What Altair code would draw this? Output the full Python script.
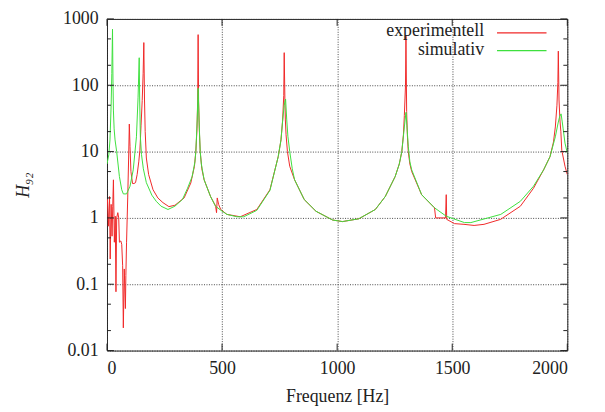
import altair as alt
import pandas as pd

# ---- data ----
freq_exp = [0, 2, 6, 11, 14, 18, 22, 25, 28, 32, 36, 39, 42, 47, 51, 54, 60, 64, 68,
            71, 75, 80, 82, 85, 90, 94, 97, 100, 104, 111, 117, 124, 131, 138, 143,
            148, 153, 157, 160, 163, 166, 171, 181, 200, 221, 243, 269, 295, 335,
            364, 380, 386, 391, 394, 396, 398, 401, 405, 412, 422, 450, 472, 476, 479,
            485, 494, 521, 579, 651, 708, 744, 756, 763, 768, 770, 773, 775, 778, 784,
            794, 815, 857, 908, 980, 1023, 1094, 1166, 1209, 1252, 1270, 1281, 1288,
            1292, 1297, 1299, 1302, 1305, 1309, 1316, 1324, 1367, 1423, 1428, 1471,
            1474, 1476, 1510, 1551, 1595, 1638, 1710, 1796, 1853, 1897, 1925, 1940,
            1948, 1955, 1959, 1961, 1964, 1968, 1972, 1976, 1990, 2000]
h_exp = [1.9, 1.9, 0.75, 2.1, 0.24, 1.6, 0.53, 1.5, 3.75, 0.43, 1.06, 0.077, 1.0, 1.2,
         1.0, 0.43, 0.45, 0.4, 0.19, 0.022, 0.17, 0.043, 0.135, 0.43, 2.0, 8, 26, 12,
         5, 3.3, 3.3, 3.4, 4.5, 7, 10.5, 25, 59, 150, 440, 60, 20, 8, 4.5, 2.66, 2.0,
         1.7, 1.48, 1.55, 2.0, 3.35, 6, 10, 22, 60, 580, 60, 22, 10, 5.5, 3.76, 2.1,
         1.5, 1.2, 2.0, 1.6, 1.34, 1.13, 1.04, 1.34, 2.66, 8.4, 15, 29, 70, 310, 60,
         30, 18, 10, 6, 3.76, 1.89, 1.26, 0.93, 0.88, 0.97, 1.34, 2.1, 4.2, 6.5, 10,
         18, 35, 100, 550, 40, 18, 10, 6.5, 5.0, 2.24, 1.42, 1.0, 1.0, 2.24, 0.95,
         0.82, 0.8, 0.77, 0.8, 0.95, 1.5, 2.8, 5.3, 8.4, 14, 23.5, 50, 110, 327, 60,
         30, 20, 10.5, 6, 4.5]

freq_sim = [0, 8, 13, 18, 21, 24, 26, 28, 31, 35, 42, 54, 64, 71, 85, 100, 114, 128,
            135, 140, 142, 145, 150, 158, 171, 195, 214, 235, 265, 295, 328, 350, 370,
            382, 386, 392, 396, 400, 405, 410, 422, 450, 472, 495, 521, 564, 594, 651,
            708, 744, 756, 763, 770, 776, 781, 786, 794, 805, 815, 857, 908, 980, 1023,
            1094, 1166, 1209, 1252, 1270, 1281, 1292, 1299, 1303, 1309, 1316, 1324,
            1367, 1423, 1474, 1553, 1581, 1711, 1796, 1853, 1897, 1925, 1948, 1960,
            1967, 1973, 1978, 1982, 1990, 2000]
h_sim = [6.5, 9, 15, 50, 150, 700, 120, 41, 22, 15, 10, 4.2, 2.66, 2.3, 2.3, 3.0,
         5.3, 16.7, 66, 260, 60, 16.7, 9, 5.5, 3.4, 2.2, 1.78, 1.5, 1.34, 1.5, 1.9,
         2.8, 4.2, 7, 10, 30, 90, 30, 10, 6.5, 3.76, 2.1, 1.5, 1.3, 1.13, 1.04, 1.04,
         1.3, 2.6, 8.4, 15, 29, 50, 62, 30, 17, 10, 5.5, 3.76, 1.89, 1.26, 0.93, 0.88,
         0.97, 1.34, 2.1, 4.2, 6.5, 10, 23.5, 39, 25, 12, 7, 5.3, 2.24, 1.42, 1.06,
         0.85, 0.85, 1.13, 1.78, 3.0, 5.3, 8.4, 16.7, 27, 34, 37, 28, 22, 13.4, 9.5]

series_names = ["experimentell", "simulativ"]
series_colors = ["#f02828", "#3ee03e"]

y_major = [0.01, 0.1, 1, 10, 100, 1000]
y_minor = [0.02, 0.05, 0.2, 0.5, 2, 5, 20, 50, 200, 500]
x_major = [0, 500, 1000, 1500, 2000]

W, H = 465, 335
FONT = "Liberation Serif"

df = pd.concat([
    pd.DataFrame({"f": freq_exp, "h": h_exp, "s": series_names[0]}),
    pd.DataFrame({"f": freq_sim, "h": h_sim, "s": series_names[1]}),
])

xscale = alt.Scale(domain=[0, 2000], nice=False, zero=False)
yscale = alt.Scale(type="log", domain=[0.01, 1000], nice=False)

xaxis = alt.Axis(values=x_major, format="d", title="Frequenz [Hz]", grid=True,
                 ticks=False, domain=False, labelPadding=9, titlePadding=10)
yaxis = alt.Axis(values=y_major, format="~g", title="H₉₂", grid=True,
                 ticks=False, domain=False, labelPadding=9,
                 titleFontStyle="italic", titleX=-84, titleY=H / 2,
                 titleAngle=270, titleAlign="center", titleBaseline="middle")

lines = alt.Chart(df).mark_line(strokeWidth=1, clip=True).encode(
    x=alt.X("f:Q", scale=xscale, axis=xaxis),
    y=alt.Y("h:Q", scale=yscale, axis=yaxis),
    color=alt.Color("s:N", scale=alt.Scale(domain=series_names, range=series_colors),
                    legend=None),
    order=alt.Order("f:Q"),
)

ymaj_df = pd.DataFrame({"h": y_major})
ymin_df = pd.DataFrame({"h": y_minor})
xmaj_df = pd.DataFrame({"f": x_major})

def ytick(d, x0, x1):
    return alt.Chart(d).mark_rule(color="#222", strokeWidth=1).encode(
        y=alt.Y("h:Q", scale=yscale, axis=yaxis),
        x=alt.value(x0), x2=alt.value(x1))

def xtick(d, y0, y1):
    return alt.Chart(d).mark_rule(color="#222", strokeWidth=1).encode(
        x=alt.X("f:Q", scale=xscale, axis=xaxis),
        y=alt.value(y0), y2=alt.value(y1))

ticks = [
    ytick(ymaj_df, 0, 7), ytick(ymin_df, 0, 4),
    ytick(ymaj_df, W - 7, W), ytick(ymin_df, W - 4, W),
    xtick(xmaj_df, H, H - 7), xtick(xmaj_df, 0, 7),
]

leg_df = pd.DataFrame({"s": series_names})
legend_layers = []
for i, name in enumerate(series_names):
    sub = leg_df[leg_df.s == name]
    legend_layers.append(
        alt.Chart(sub).mark_text(align="right", baseline="middle", font=FONT,
                                 fontSize=18, color="#222").encode(
            text="s:N", x=alt.value(381), y=alt.value(12 + 19 * i)))
    legend_layers.append(
        alt.Chart(sub).mark_rule(strokeWidth=1.2, color=series_colors[i]).encode(
            x=alt.value(394), x2=alt.value(444), y=alt.value(14 + 18 * i)))

chart = alt.layer(lines, *ticks, *legend_layers).properties(
    width=W, height=H,
    background="white",
    autosize=alt.AutoSizeParams(type="none"),
    padding={"left": 100, "top": 9, "right": 30, "bottom": 58},
).configure_view(stroke="#222", strokeWidth=1).configure_axis(
    labelFont=FONT, titleFont=FONT, labelFontSize=18, titleFontSize=18,
    labelColor="#222", titleColor="#222", titleFontWeight="normal",
    gridColor="#333", gridDash=[1, 1.5], gridWidth=1, gridOpacity=0.9,
)

chart.save("out.html", embed_options={"renderer": "svg", "actions": False})
